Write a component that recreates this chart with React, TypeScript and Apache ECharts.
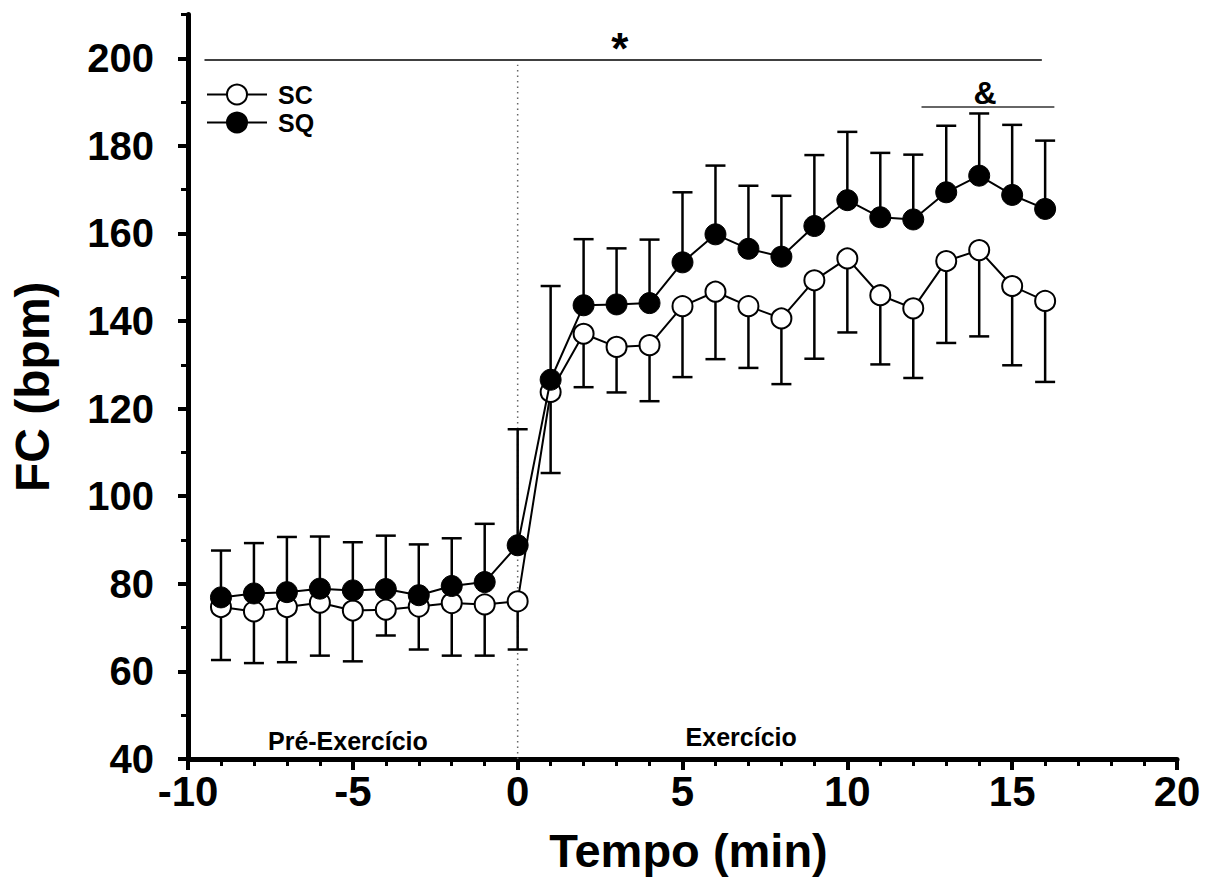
import React, { useEffect, useRef } from "react";
import * as echarts from "echarts";

const TIME = [-9, -8, -7, -6, -5, -4, -3, -2, -1, 0, 1, 2, 3, 4, 5, 6, 7, 8, 9, 10, 11, 12, 13, 14, 15, 16];

const SC_MEAN = [74.7, 73.7, 74.7, 75.7, 73.9, 74.1, 74.8, 75.6, 75.3, 76.0, 123.8, 137.1, 134.1, 134.5, 143.4, 146.7, 143.4, 140.6, 149.3, 154.3, 145.9, 142.9, 153.7, 156.2, 148.0, 144.6];
const SC_LOWER = [62.6, 61.9, 62.1, 63.6, 62.3, 68.2, 65.0, 63.6, 63.6, 65.0, 105.3, 124.9, 123.7, 121.7, 127.2, 131.3, 129.3, 125.6, 131.4, 137.4, 130.1, 127.0, 135.0, 136.5, 129.9, 126.1];

const SQ_MEAN = [76.9, 77.8, 78.1, 78.9, 78.5, 78.8, 77.4, 79.5, 80.4, 88.8, 126.6, 143.6, 143.8, 144.1, 153.4, 159.8, 156.5, 154.7, 161.7, 167.6, 163.7, 163.2, 169.4, 173.2, 168.8, 165.6];
const SQ_UPPER = [87.6, 89.3, 90.7, 90.8, 89.5, 91.0, 89.0, 90.4, 93.7, 115.3, 148.0, 158.7, 156.6, 158.6, 169.4, 175.5, 170.9, 168.6, 177.9, 183.2, 178.4, 178.0, 184.6, 187.4, 184.8, 181.2];

const Y_MAJOR = [40, 60, 80, 100, 120, 140, 160, 180, 200];
const Y_MINOR = [50, 70, 90, 110, 130, 150, 170, 190, 210];

// significance bars and reference line (data coordinates)
const STAR_BAR = [[-9.5, 199.6], [15.9, 199.6]];
const AMP_BAR = [[12.25, 188.9], [16.28, 188.9]];
const ZERO_LINE = [[0, 40], [0, 198.5]];

const ANNOT_TEXT = ["*", "&", "Pré-Exercício", "Exercício"];
const ANNOT_X = [3.1, 14.18, -5.15, 6.78];
const ANNOT_Y = [202.2, 192.1, 44.2, 45.1];

const FONT = 'Arial, "Liberation Sans", Helvetica, sans-serif';

export default function App() {
  const ref = useRef<HTMLDivElement>(null);

  useEffect(() => {
    if (!ref.current) return;
    const chart = echarts.init(ref.current, undefined, { renderer: "svg" });

    const errorRender = (params: any, api: any) => {
      const x = api.value(0);
      const m = api.value(1);
      const e = api.value(2);
      const p0 = api.coord([x, m]);
      const p1 = api.coord([x, e]);
      const hw = 10;
      const style = { stroke: "#000", lineWidth: 2.5 };
      return {
        type: "group",
        children: [
          { type: "line", shape: { x1: p0[0], y1: p0[1], x2: p1[0], y2: p1[1] }, style },
          { type: "line", shape: { x1: p1[0] - hw, y1: p1[1], x2: p1[0] + hw, y2: p1[1] }, style },
        ],
      };
    };

    const annotSizes = [44, 32, 25, 25];

    const option: any = {
      animation: false,
      backgroundColor: "#fff",
      textStyle: { fontFamily: FONT },
      grid: { left: 186, right: 37, top: 14.5, bottom: 124, containLabel: false },
      legend: {
        data: ["SC", "SQ"],
        orient: "vertical",
        left: 201,
        top: 77,
        itemWidth: 60,
        itemHeight: 25,
        itemGap: 3,
        selectedMode: false,
        textStyle: { fontSize: 25, fontWeight: "bold", color: "#000", fontFamily: FONT, padding: [0, 0, 0, 6] },
      },
      xAxis: {
        type: "value",
        min: -10,
        max: 20,
        interval: 5,
        splitLine: { show: false },
        axisLine: { show: true, onZero: false, lineStyle: { color: "#000", width: 5 } },
        axisTick: { show: true, length: 11, lineStyle: { color: "#000", width: 4 } },
        minorTick: { show: true, splitNumber: 5, length: 7, lineStyle: { color: "#000", width: 3 } },
        axisLabel: { fontSize: 42, fontWeight: "bold", color: "#000", margin: 11, fontFamily: FONT },
        name: "Tempo (min)",
        nameLocation: "middle",
        nameGap: 68,
        nameTextStyle: { fontSize: 47, fontWeight: "bold", color: "#000", fontFamily: FONT, padding: [0, 0, 0, 12] },
      },
      yAxis: [
        {
          type: "value",
          min: 40,
          max: 210,
          splitLine: { show: false },
          axisLine: { show: true, onZero: false, lineStyle: { color: "#000", width: 5 } },
          axisTick: { show: true, customValues: Y_MAJOR, length: 10, lineStyle: { color: "#000", width: 4 } },
          axisLabel: { customValues: Y_MAJOR, fontSize: 40, fontWeight: "bold", color: "#000", margin: 34, fontFamily: FONT },
          name: "FC (bpm)",
          nameLocation: "middle",
          nameGap: 132,
          nameRotate: 90,
          nameTextStyle: { fontSize: 48, fontWeight: "bold", color: "#000", fontFamily: FONT },
        },
        {
          type: "value",
          min: 40,
          max: 210,
          position: "left",
          offset: 0,
          splitLine: { show: false },
          axisLine: { show: false, onZero: false },
          axisTick: { show: true, customValues: Y_MINOR, length: 7, lineStyle: { color: "#000", width: 3 } },
          axisLabel: { show: false },
        },
      ],
      series: [
        {
          type: "line",
          data: ZERO_LINE,
          symbol: "none",
          silent: true,
          lineStyle: { color: "#666", width: 1.5, type: [1.5, 4] },
          z: 0,
        },
        {
          type: "line",
          data: STAR_BAR,
          symbol: "none",
          silent: true,
          lineStyle: { color: "#000", width: 1.5 },
          z: 1,
        },
        {
          type: "line",
          data: AMP_BAR,
          symbol: "none",
          silent: true,
          lineStyle: { color: "#333", width: 1.5 },
          z: 1,
        },
        {
          type: "custom",
          renderItem: errorRender,
          data: TIME.map((t, i) => [t, SC_MEAN[i], SC_LOWER[i]]),
          encode: { x: 0, y: 1 },
          silent: true,
          z: 2,
        },
        {
          type: "custom",
          renderItem: errorRender,
          data: TIME.map((t, i) => [t, SQ_MEAN[i], SQ_UPPER[i]]),
          encode: { x: 0, y: 1 },
          silent: true,
          z: 2,
        },
        {
          name: "SC",
          type: "line",
          data: TIME.map((t, i) => [t, SC_MEAN[i]]),
          symbol: "circle",
          symbolSize: 20,
          lineStyle: { color: "#000", width: 2 },
          itemStyle: { color: "#fff", borderColor: "#000", borderWidth: 2 },
          z: 3,
        },
        {
          name: "SQ",
          type: "line",
          data: TIME.map((t, i) => [t, SQ_MEAN[i]]),
          symbol: "circle",
          symbolSize: 21,
          lineStyle: { color: "#000", width: 2 },
          itemStyle: { color: "#000", borderColor: "#000", borderWidth: 1 },
          z: 4,
        },
        {
          type: "scatter",
          silent: true,
          symbolSize: 0,
          z: 5,
          itemStyle: { opacity: 1 },
          data: ANNOT_TEXT.map((txt, i) => ({
            value: [ANNOT_X[i], ANNOT_Y[i]],
            label: {
              show: true,
              position: "inside",
              formatter: txt,
              fontSize: annotSizes[i],
              fontWeight: "bold",
              color: "#000",
              opacity: 1,
              textBorderWidth: 0,
              fontFamily: FONT,
            },
          })),
        },
      ],
    };

    chart.setOption(option);
    return () => chart.dispose();
  }, []);

  return (
    <div
      ref={ref}
      style={{ position: "fixed", left: 0, top: 0, width: 1214, height: 883, background: "#fff" }}
    />
  );
}
